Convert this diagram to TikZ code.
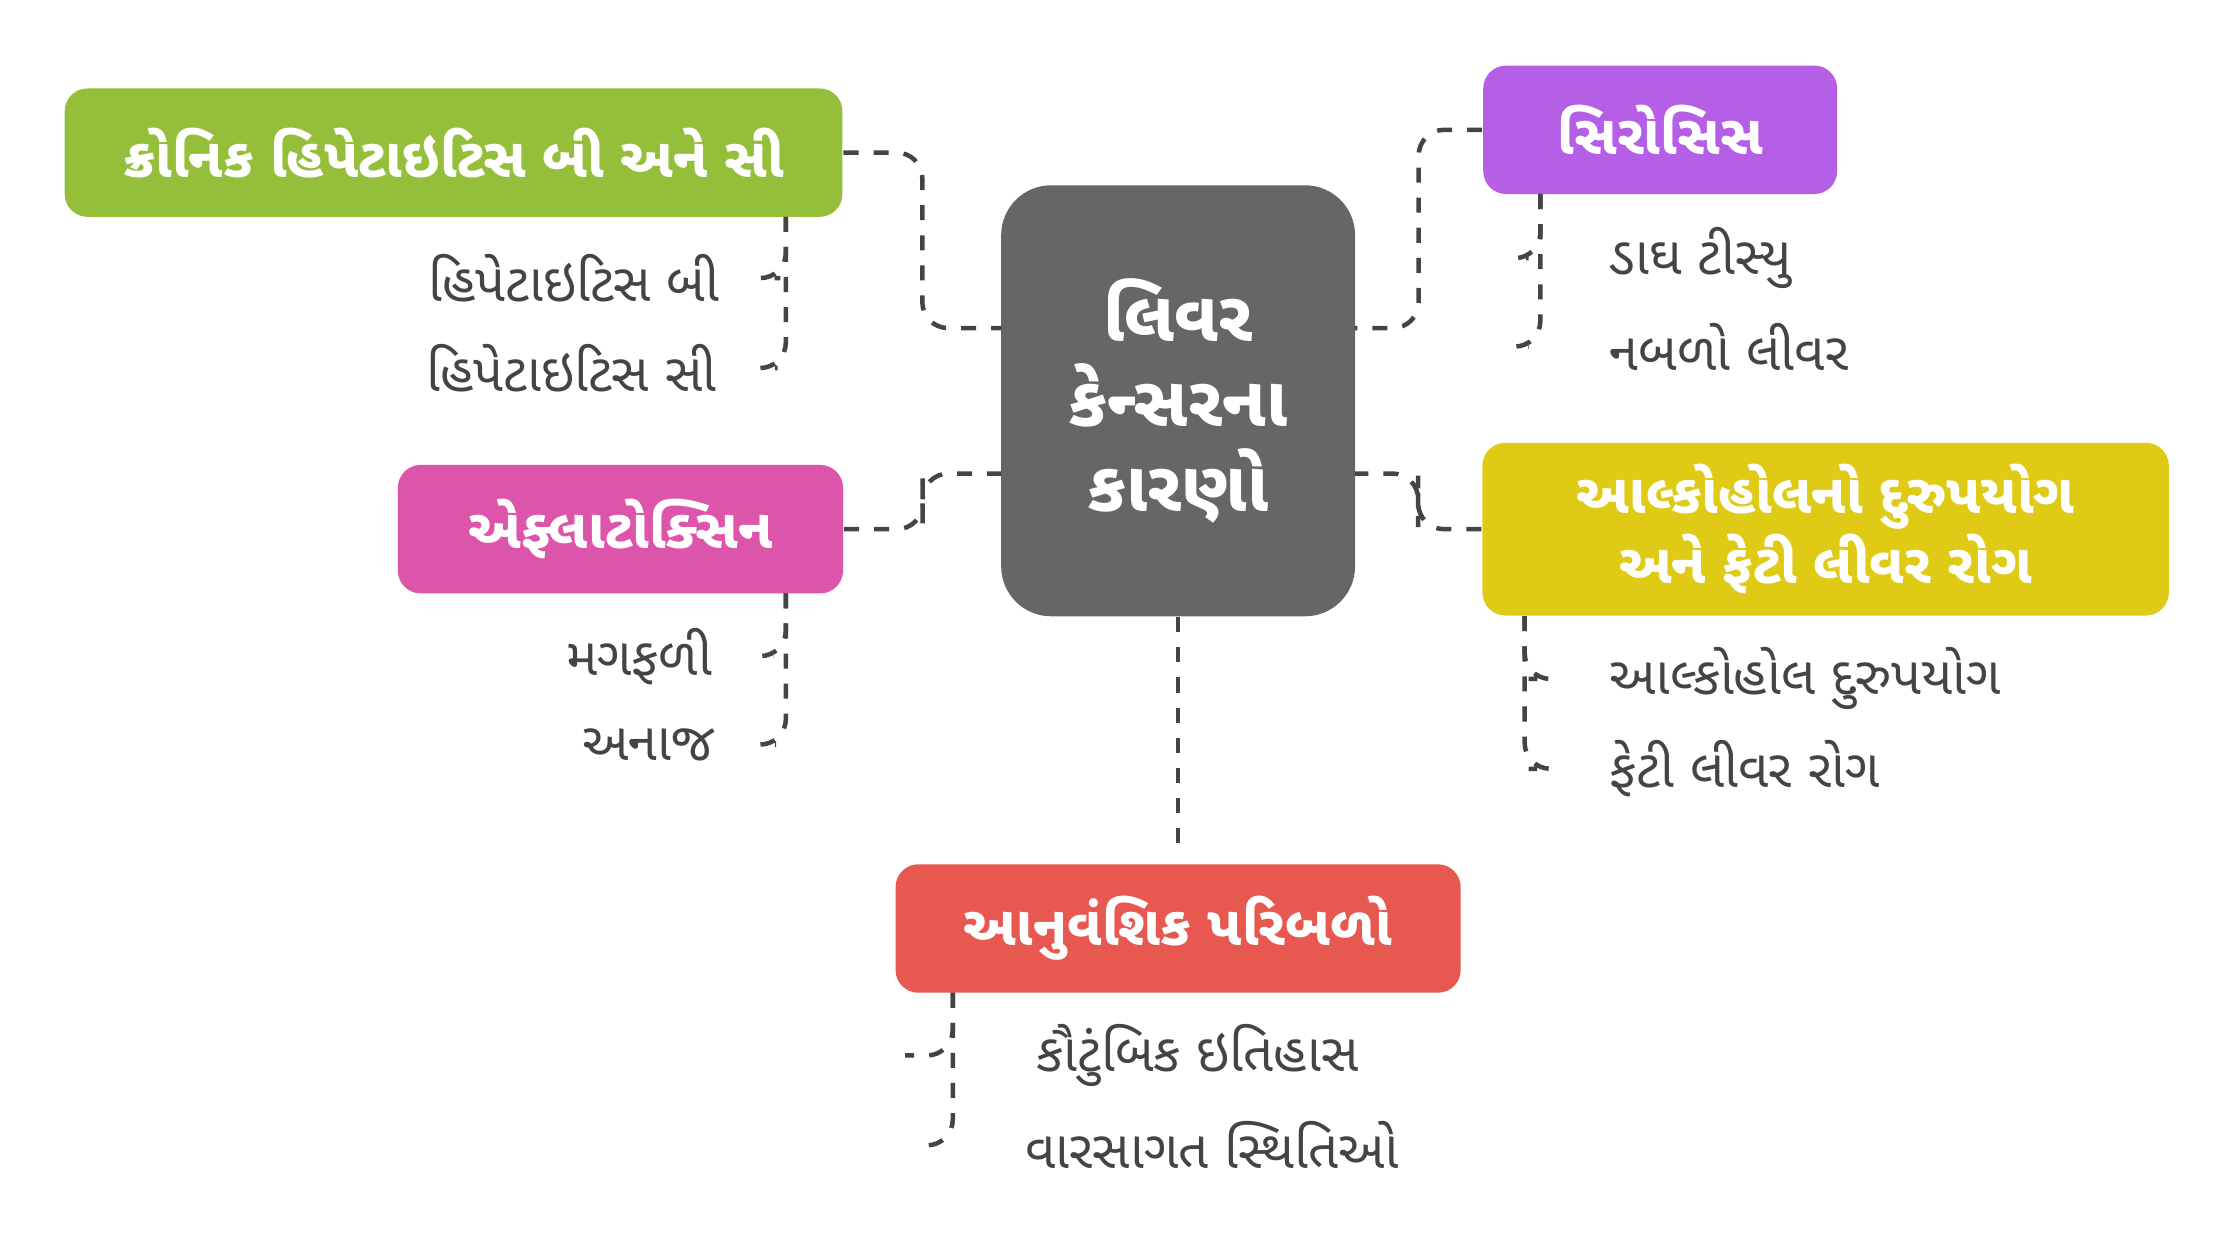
\documentclass[tikz,border=0pt]{standalone}
\usepackage{fontspec}
\newfontfamily\gujfont[Script=Gujarati]{Noto Sans Gujarati UI}
\usetikzlibrary{positioning,calc}
\definecolor{centergray}{HTML}{666666}
\definecolor{hepgreen}{HTML}{95BF3B}
\definecolor{cirpurple}{HTML}{B55EE6}
\definecolor{aflpink}{HTML}{DD55AA}
\definecolor{alcyellow}{HTML}{DFCA16}
\definecolor{genred}{HTML}{E65850}
\definecolor{leaftext}{HTML}{444444}
\tikzset{
  causebox/.style={rounded corners=0.16cm, text=white, align=center, inner sep=0pt,
    minimum height=0.9cm, font=\gujfont\bfseries\fontsize{11}{12}\selectfont},
  leaf/.style={text=leaftext, inner sep=0pt, font=\gujfont\fontsize{10.5}{12}\selectfont},
  link/.style={draw=leaftext, line width=0.9pt, dash pattern=on 3pt off 3pt, rounded corners=0.18cm}
}
\begin{document}
\begin{tikzpicture}[x=0.01cm, y=-0.01cm]
    \useasboundingbox (0,0) rectangle (1560,866);

    % Center
    \node[fill=centergray, rounded corners=0.35cm, text=white, align=center, minimum width=2.48cm, minimum height=3.02cm, font=\gujfont\bfseries\fontsize{14}{17}\selectfont] (liver) at (826,281) {લિવર\\કેન્સરના\\કારણો};

    % Causes
    \node[causebox, fill=hepgreen, minimum width=5.45cm] (hep) at (318,107) {ક્રોનિક હિપેટાઇટિસ બી અને સી};
    \node[causebox, fill=cirpurple, minimum width=2.48cm] (cir) at (1164,91) {સિરોસિસ};
    \node[causebox, fill=aflpink, minimum width=3.12cm] (afl) at (435,371) {એફ્લાટોક્સિન};
    \node[causebox, fill=alcyellow, minimum width=4.81cm, minimum height=1.21cm, font=\gujfont\bfseries\fontsize{11}{11.5}\selectfont] (alc) at (1280,371) {આલ્કોહોલનો દુરુપયોગ\\અને ફેટી લીવર રોગ};
    \node[causebox, fill=genred, minimum width=3.96cm] (gen) at (826,651) {આનુવંશિક પરિબળો};

    % Leaves
    \node[leaf, anchor=east] (hepb) at (505,195) {હિપેટાઇટિસ બી};
    \node[leaf, anchor=east] (hepc) at (503,258) {હિપેટાઇટિસ સી};
    \node[leaf, anchor=east] (nut) at (500,460) {મગફળી};
    \node[leaf, anchor=east] (grain) at (502,522) {અનાજ};
    \node[leaf, anchor=west] (scar) at (1128,181) {ડાઘ ટીસ્યુ};
    \node[leaf, anchor=west] (weak) at (1128,243) {નબળો લીવર};
    \node[leaf, anchor=west] (abuse) at (1128,476) {આલ્કોહોલ દુરુપયોગ};
    \node[leaf, anchor=west] (fatty) at (1128,539) {ફેટી લીવર રોગ};
    \node[leaf, anchor=west] (family) at (726,740) {કૌટુંબિક ઇતિહાસ};
    \node[leaf, anchor=west] (inher) at (718,803) {વારસાગત સ્થિતિઓ};

    % Main links
    \coordinate (lu) at (702,230);
    \coordinate (ld) at (702,332);
    \coordinate (ru) at (950,230);
    \coordinate (rd) at (950,332);
    \draw[link] (hep.east) -| ($(hep.east)!.5!(lu)$) |- (lu);
    \draw[link] (afl.east) -| ($(afl.east)!.5!(ld)$) |- (ld);
    \draw[link] (cir.west) -| ($(cir.west)!.5!(ru)$) |- (ru);
    \draw[link] (alc.west) -| ($(alc.west)!.5!(rd)$) |- (rd);
    \draw[link] (liver.south) -- (826,592);

    % Leaf links
    \draw[link] (551,152) |- ([xshift=12]hepb.east);
    \draw[link] (551,152) |- ([xshift=12]hepc.east);
    \draw[link] (551,416) |- ([xshift=12]nut.east);
    \draw[link] (551,416) |- ([xshift=12]grain.east);
    \draw[link] (1080,136) |- ([xshift=-16]scar.west);
    \draw[link] (1080,136) |- ([xshift=-16]weak.west);
    \draw[link] (1069,432) |- ([xshift=-16]abuse.west);
    \draw[link] (1069,432) |- ([xshift=-16]fatty.west);
    \draw[link] (668,696) |- ([xshift=-26]family.west);
    \draw[link] (668,696) |- ([xshift=-18]inher.west);
\end{tikzpicture}
\end{document}
